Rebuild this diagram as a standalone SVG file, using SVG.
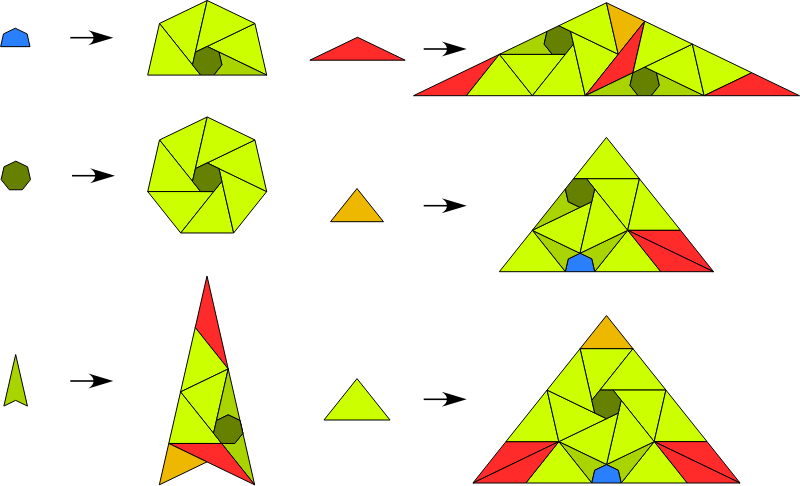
<svg xmlns="http://www.w3.org/2000/svg" xmlns:xlink="http://www.w3.org/1999/xlink" width="800" height="486" viewBox="0 0 800 486">
<style>
polygon{stroke:#000;stroke-width:1;stroke-linejoin:round}
.y{fill:#ccff00}.m{fill:#aad400}.d{fill:#668000}.r{fill:#ff2a2a}.o{fill:#eeb800}.b{fill:#2a7fff}
</style>
<defs>
<g id="arrow"><path d="M-43,0 H-14" stroke="#000" stroke-width="1.6" fill="none"/><path d="M0,0 L-25,-7.5 C-18,-3 -18,3 -25,7.5 Z" fill="#000"/></g>
</defs>
<rect width="800" height="486" fill="#fff"/>

<g id="small-blue"><polygon class="b" transform="translate(15.3,43.3)" points="14.69,3.35 11.78,-9.4 0,-15.07 -11.78,-9.4 -14.69,3.35"/></g>
<g id="small-heptagon"><polygon class="d" transform="translate(15.8,176.2)" points="0,-15.07 -11.78,-9.4 -14.69,3.35 -6.54,13.58 6.54,13.58 14.69,3.35 11.78,-9.4"/></g>
<g id="small-dart"><polygon class="m" points="15.67,354.5 27.44,406.07 15.67,400.4 3.9,406.07"/></g>
<g id="small-red"><polygon class="r" points="309.85,60.2 357.5,37.25 405.15,60.2"/></g>
<g id="small-orange"><polygon class="o" points="330.55,221.7 357,188.53 383.45,221.7"/></g>
<g id="small-yellow"><polygon class="y" points="324,420 357,378.64 390,420"/></g>

<g id="semi-heptagon" transform="translate(207.2,61.5)">
<polygon class="y" points="0,-61.02 -47.71,-38.05 -14.69,3.35"/>
<polygon class="y" points="-47.71,-38.05 -59.49,13.58 -6.54,13.58"/>
<polygon class="y" points="59.49,13.58 47.71,-38.05 0,-15.07"/>
<polygon class="y" points="47.71,-38.05 0,-61.02 -11.78,-9.4"/>
<polygon class="m" points="59.49,13.58 11.78,-9.4 14.69,3.35 6.54,13.58"/>
<polygon class="d" points="0,-15.07 -11.78,-9.4 -14.69,3.35 -6.54,13.58 6.54,13.58 14.69,3.35 11.78,-9.4"/>
</g>

<g id="heptagon" transform="translate(207.2,178)">
<polygon class="y" points="0,-61.02 -47.71,-38.05 -14.69,3.35"/>
<polygon class="y" points="-47.71,-38.05 -59.49,13.58 -6.54,13.58"/>
<polygon class="y" points="-59.49,13.58 -26.48,54.98 6.54,13.58"/>
<polygon class="y" points="-26.48,54.98 26.48,54.98 14.69,3.35"/>
<polygon class="y" points="26.48,54.98 59.49,13.58 11.78,-9.4"/>
<polygon class="y" points="59.49,13.58 47.71,-38.05 0,-15.07"/>
<polygon class="y" points="47.71,-38.05 0,-61.02 -11.78,-9.4"/>
<polygon class="d" points="0,-15.07 -11.78,-9.4 -14.69,3.35 -6.54,13.58 6.54,13.58 14.69,3.35 11.78,-9.4"/>
</g>

<g id="dart">
<polygon class="r" points="207,276 195.23,327.57 228.21,368.94"/>
<polygon class="y" points="195.23,327.57 228.21,368.94 180.54,391.92"/>
<polygon class="y" points="180.54,391.92 228.21,368.94 216.44,420.49 213.53,433.24"/>
<polygon class="y" points="180.54,391.92 213.53,433.24 221.68,443.47 168.78,443.47"/>
<polygon class="m" points="228.21,368.94 242.91,433.24 240,420.49 228.22,414.82 216.44,420.49"/>
<polygon class="m" points="242.91,433.24 254.66,484.83 221.68,443.47 234.76,443.47"/>
<polygon class="d" transform="translate(228.22,429.89)" points="0,-15.07 -11.78,-9.4 -14.69,3.35 -6.54,13.58 6.54,13.58 14.69,3.35 11.78,-9.4"/>
<polygon class="r" points="168.78,443.47 221.68,443.47 254.66,484.83 207,461.88"/>
<polygon class="o" points="159.34,484.83 168.78,443.47 207,461.88"/>
</g>

<g id="red-inflated">
<polygon class="r" points="413.5,95.7 499.39,54.34 466.4,95.7"/>
<polygon class="y" points="499.39,54.34 466.4,95.7 532.37,95.7"/>
<polygon class="y" points="499.39,54.34 565.36,54.34 532.37,95.7"/>
<polygon class="m" points="499.39,54.34 547.04,31.36 544.13,44.11 552.28,54.34"/>
<polygon class="d" transform="translate(558.82,40.76)" points="0,-15.07 -11.78,-9.4 -14.69,3.35 -6.54,13.58 6.54,13.58 14.69,3.35 11.78,-9.4"/>
<polygon class="y" points="532.37,95.7 585.27,95.7 573.51,44.11"/>
<polygon class="y" points="585.27,95.7 618.26,54.31 570.6,31.36"/>
<polygon class="y" points="618.26,54.31 606.49,2.76 558.82,25.69"/>
<polygon class="o" points="606.49,2.76 644.71,21.17 618.26,54.31"/>
<polygon class="r" points="644.71,21.17 632.93,72.72 585.27,95.7 618.26,54.31"/>
<polygon class="m" points="585.27,95.7 632.93,72.72 630.02,85.47 638.17,95.7"/>
<polygon class="d" transform="translate(644.71,82.12)" points="0,-15.07 -11.78,-9.4 -14.69,3.35 -6.54,13.58 6.54,13.58 14.69,3.35 11.78,-9.4"/>
<polygon class="m" points="651.24,95.7 659.4,85.47 656.49,72.72 704.14,95.7"/>
<polygon class="y" points="704.14,95.7 692.38,44.11 644.71,67.05"/>
<polygon class="y" points="692.38,44.11 644.71,21.17 632.93,72.72"/>
<polygon class="y" points="692.38,44.11 751.81,72.75 704.14,95.7"/>
<polygon class="r" points="704.14,95.7 751.81,72.75 799.47,95.7"/>
</g>

<g id="orange-inflated">
<polygon class="y" points="606.45,137.39 573.47,178.75 639.43,178.75"/>
<polygon class="y" points="586.54,178.75 639.43,178.75 627.68,230.34"/>
<polygon class="y" points="639.43,178.75 680.58,230.34 627.68,230.34"/>
<polygon class="r" points="627.68,230.34 680.58,230.34 713.56,271.7"/>
<polygon class="r" points="627.68,230.34 713.56,271.7 660.66,271.7"/>
<polygon class="y" points="627.68,230.34 660.66,271.7 594.69,271.7"/>
<polygon class="m" points="627.68,230.34 580,253.28 591.78,258.95 594.69,271.7"/>
<polygon class="b" transform="translate(580,268.35)" points="14.69,3.35 11.78,-9.4 0,-15.07 -11.78,-9.4 -14.69,3.35"/>
<polygon class="m" points="532.32,230.34 580,253.28 568.22,258.95 565.31,271.7"/>
<polygon class="y" points="499.34,271.7 565.31,271.7 532.32,230.34"/>
<polygon class="y" points="532.32,230.34 580,207.4 591.78,201.73 580,253.28"/>
<polygon class="y" points="580,253.28 627.68,230.34 594.69,188.98 591.78,201.73"/>
<polygon class="m" points="565.31,188.98 532.32,230.34 580,207.4 568.22,201.73"/>
<polygon class="d" transform="translate(580,192.33) rotate(180)" points="0,-15.07 -11.78,-9.4 -14.69,3.35 -6.54,13.58 6.54,13.58 14.69,3.35 11.78,-9.4"/>
</g>

<g id="yellow-inflated">
<polygon class="o" points="606.5,315.53 580.05,348.7 632.95,348.7"/>
<polygon class="y" points="580.05,348.7 632.95,348.7 599.96,390.05 591.81,400.28"/>
<polygon class="y" points="632.95,348.7 665.93,390.05 613.04,390.05 599.96,390.05"/>
<polygon class="y" points="665.93,390.05 654.16,441.63 621.19,400.28 613.04,390.05"/>
<polygon class="y" points="665.93,390.05 707.06,441.63 654.16,441.63"/>
<polygon class="r" points="654.16,441.63 707.06,441.63 740.06,483"/>
<polygon class="r" points="654.16,441.63 740.06,483 687.14,483"/>
<polygon class="y" points="654.16,441.63 687.14,483 621.19,483"/>
<polygon class="m" points="654.16,441.63 606.5,464.58 618.28,470.25 621.19,483"/>
<polygon class="y" points="654.16,441.63 621.19,400.28 618.28,413.03 606.5,464.58"/>
<polygon class="y" points="606.5,464.58 618.28,413.03 606.5,418.7 558.84,441.63"/>
<polygon class="m" points="558.84,441.63 606.5,464.58 594.72,470.25 591.81,483"/>
<polygon class="b" transform="translate(606.5,479.65)" points="14.69,3.35 11.78,-9.4 0,-15.07 -11.78,-9.4 -14.69,3.35"/>
<polygon class="y" points="558.84,441.63 525.86,483 591.81,483"/>
<polygon class="r" points="505.94,441.63 558.84,441.63 472.94,483"/>
<polygon class="r" points="558.84,441.63 525.86,483 472.94,483"/>
<polygon class="y" points="547.07,390.05 505.94,441.63 558.84,441.63"/>
<polygon class="y" points="547.07,390.05 558.84,441.63 606.5,418.7 594.72,413.03"/>
<polygon class="y" points="580.05,348.7 547.07,390.05 594.72,413.03 591.81,400.28"/>
<polygon class="d" transform="translate(606.5,403.63) rotate(180)" points="0,-15.07 -11.78,-9.4 -14.69,3.35 -6.54,13.58 6.54,13.58 14.69,3.35 11.78,-9.4"/>
</g>

<g id="connectors">
<use xlink:href="#arrow" transform="translate(113.3,37.7)"/>
<use xlink:href="#arrow" transform="translate(115,175.7)"/>
<use xlink:href="#arrow" transform="translate(113.3,381)"/>
<use xlink:href="#arrow" transform="translate(466.7,49)"/>
<use xlink:href="#arrow" transform="translate(466.7,205.7)"/>
<use xlink:href="#arrow" transform="translate(466.7,399.3)"/>
</g>
</svg>
